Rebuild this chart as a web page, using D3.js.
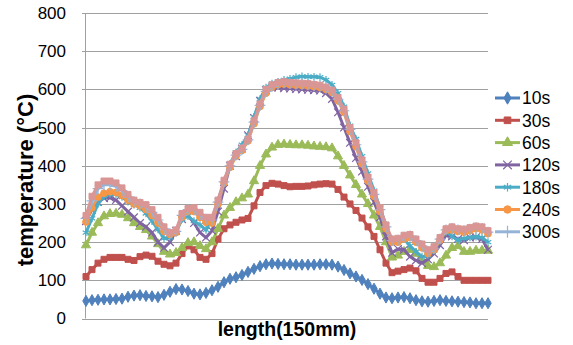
<!DOCTYPE html>
<html lang="en">
<head>
    <meta charset="UTF-8">
    <title>temperature vs length</title>
    <script src="https://d3js.org/d3.v7.min.js"></script>
    <style>
        body { margin: 0; background: #fff; }
        text { font-family: "Liberation Sans", Arial, sans-serif; }
    </style>
</head>
<body>
    <div id="chart"></div>
    <script>
        // series names (legend) and the extra 8th series that has no legend entry
        const seriesNames = ["10s", "30s", "60s", "120s", "180s", "240s", "300s", "extra"];
        const yTicks = [0, 100, 200, 300, 400, 500, 600, 700, 800];

        const s10 = [46,48,49,50,50,51,52,57,60,61,59,58,56,62,70,77,76,72,65,63,67,74,83,95,104,108,114,122,130,137,142,144,143,142,142,141,141,141,141,142,142,141,136,127,118,110,101,90,78,65,55,53,55,56,53,48,45,44,46,48,46,45,44,43,42,40,40,40];
        const s30 = [110,128,145,155,160,160,160,155,152,162,166,163,150,142,138,145,170,190,180,160,155,170,208,235,245,252,258,262,295,330,348,354,352,348,345,346,346,347,350,352,353,352,338,318,300,283,263,240,215,180,145,120,124,128,132,125,105,95,95,105,118,122,110,100,100,100,100,100];
        const s60 = [192,225,250,268,274,275,272,263,250,240,232,215,195,175,168,172,185,198,200,190,182,200,235,270,290,305,315,325,360,400,430,448,455,456,455,454,454,453,451,450,449,446,425,400,375,350,325,300,270,240,200,160,165,175,180,170,152,138,135,145,165,185,190,175,175,178,178,178];
        const s120 = [255,285,305,315,316,310,295,280,265,250,240,225,200,185,200,230,260,270,250,225,212,230,280,340,400,425,445,480,525,570,598,605,605,603,602,601,600,599,598,597,590,575,540,500,460,420,385,345,305,265,215,172,182,180,162,152,145,155,170,192,218,215,208,205,212,213,208,180];
        const s180 = [225,262,300,320,326,325,318,306,298,290,275,255,233,210,212,225,260,268,255,245,232,260,310,355,405,435,455,480,528,575,605,615,620,625,628,632,634,633,633,632,625,612,590,555,505,470,425,380,335,290,245,200,205,208,190,175,162,165,178,205,228,215,205,210,212,214,212,200];
        const s240 = [253,290,318,328,332,330,322,310,300,295,285,270,250,228,220,225,265,280,280,265,252,250,300,355,396,425,440,465,510,555,590,605,612,614,612,611,610,609,607,605,600,592,570,540,490,450,405,360,320,280,235,200,200,208,212,200,185,170,180,205,230,232,228,226,230,235,232,222];
        const s300 = [262,308,340,350,350,346,335,318,306,300,292,278,258,235,222,228,270,285,285,272,260,258,305,358,400,428,443,468,514,558,595,608,615,617,615,614,613,612,610,608,603,595,574,544,495,455,410,365,325,285,240,204,205,213,216,204,190,175,184,208,232,236,232,230,234,238,236,226];
        const sExtra = [270,320,350,360,360,355,342,325,310,304,298,285,265,240,225,232,275,288,290,278,265,265,310,362,404,432,446,470,518,562,600,612,618,620,618,617,616,615,613,611,606,598,578,548,500,460,415,370,330,290,245,208,210,218,220,208,195,180,188,212,235,240,235,234,238,242,240,230];

        const allSeries = [s10, s30, s60, s120, s180, s240, s300, sExtra];
        const colors = ["#4F81BD", "#C0504D", "#9BBB59", "#8064A2", "#4BACC6", "#F79646", "#95B3D7", "#D99694"];
        const symbols = [d3.symbolDiamond, d3.symbolSquare, d3.symbolTriangle, d3.symbolX, d3.symbolAsterisk, d3.symbolCircle, d3.symbolPlus, d3.symbolSquare];
        const strokeOnly = [false, false, false, true, true, false, true, false];

        const width = 573, height = 345;
        const plot = { left: 85, right: 488, top: 13, bottom: 318.5 };

        const svg = d3.select("#chart").append("svg")
            .attr("width", width)
            .attr("height", height);

        const x = d3.scaleLinear()
            .domain([0, s10.length - 1])
            .range([plot.left + 1, plot.right]);

        const y = d3.scaleLinear()
            .domain([0, 800])
            .range([plot.bottom, plot.top]);

        // gridlines (with small outside ticks on the left)
        svg.append("g")
            .selectAll("line")
            .data(yTicks)
            .join("line")
            .attr("x1", plot.left - 3)
            .attr("x2", plot.right)
            .attr("y1", d => Math.round(y(d)) + 0.5)
            .attr("y2", d => Math.round(y(d)) + 0.5)
            .attr("stroke", "#A0A0A0")
            .attr("stroke-width", 1);

        // y axis
        const yAxis = d3.axisLeft(y).tickValues(yTicks).tickSize(0).tickPadding(19);
        const yg = svg.append("g")
            .attr("transform", `translate(${plot.left},0)`)
            .call(yAxis);
        yg.select(".domain").remove();
        yg.selectAll("text").attr("font-size", 17).attr("fill", "#000");

        svg.append("line")
            .attr("x1", plot.left + 0.5).attr("x2", plot.left + 0.5)
            .attr("y1", plot.top).attr("y2", plot.bottom)
            .attr("stroke", "#A0A0A0");

        // series
        const line = d3.line()
            .x((d, i) => x(i))
            .y(d => y(d));

        allSeries.forEach((data, k) => {
            const g = svg.append("g");
            g.append("path")
                .attr("d", line(data))
                .attr("fill", "none")
                .attr("stroke", colors[k])
                .attr("stroke-width", 3);
            const sym = d3.symbol().type(symbols[k]).size(strokeOnly[k] ? 40 : 36);
            g.selectAll("path.m")
                .data(data)
                .join("path")
                .attr("class", "m")
                .attr("transform", (d, i) => `translate(${x(i)},${y(d)})`)
                .attr("d", sym)
                .attr("fill", strokeOnly[k] ? "none" : colors[k])
                .attr("stroke", colors[k])
                .attr("stroke-width", strokeOnly[k] ? 1.2 : 1);
        });

        // axis titles
        svg.append("text")
            .attr("x", 287)
            .attr("y", 336)
            .attr("text-anchor", "middle")
            .attr("font-size", 19.5)
            .attr("font-weight", "bold")
            .text("length(150mm)");

        svg.append("text")
            .attr("transform", "translate(33,180) rotate(-90)")
            .attr("text-anchor", "middle")
            .attr("font-size", 22)
            .attr("font-weight", "bold")
            .text("temperature (\u00B0C)");

        // legend (7 entries)
        const legend = svg.append("g");
        seriesNames.slice(0, 7).forEach((name, k) => {
            const cy = 98 + k * 22.3;
            legend.append("line")
                .attr("x1", 495).attr("x2", 520)
                .attr("y1", cy).attr("y2", cy)
                .attr("stroke", colors[k])
                .attr("stroke-width", 3);
            legend.append("path")
                .attr("transform", `translate(507.5,${cy})`)
                .attr("d", d3.symbol().type(symbols[k]).size(strokeOnly[k] ? 50 : 44))
                .attr("fill", strokeOnly[k] ? "none" : colors[k])
                .attr("stroke", colors[k])
                .attr("stroke-width", strokeOnly[k] ? 1.2 : 1);
            legend.append("text")
                .attr("x", 522)
                .attr("y", cy)
                .attr("dy", "0.36em")
                .attr("font-size", 17.5)
                .text(name);
        });
    </script>
</body>
</html>
